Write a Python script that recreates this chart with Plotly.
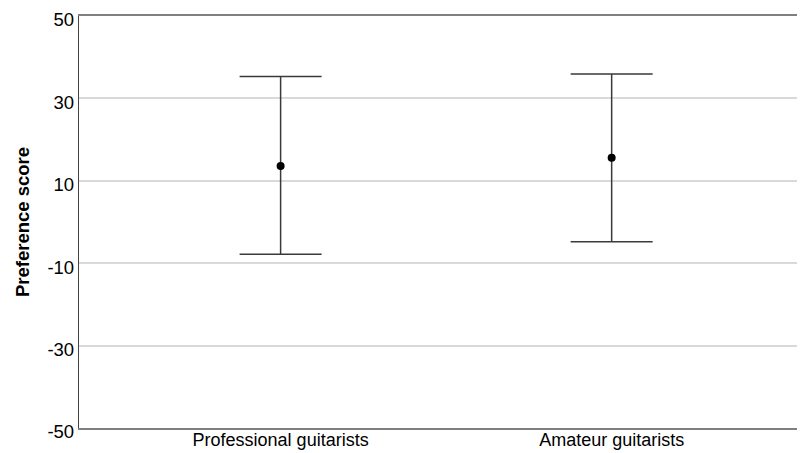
import plotly.graph_objects as go

categories = ["Professional guitarists", "Amateur guitarists"]
means = [13.6, 15.6]
upper = [35.3, 35.9]
lower = [-7.8, -4.8]
y_ticks = [-50, -30, -10, 10, 30, 50]
y_tick_labels = ["-50", "-30", "-10", "10", "30", "50"]

err_plus = [u - m for u, m in zip(upper, means)]
err_minus = [m - l for m, l in zip(means, lower)]

fig = go.Figure()
fig.add_trace(go.Scatter(
    x=categories, y=means, mode="markers",
    marker=dict(color="black", size=8),
    error_y=dict(type="data", symmetric=False, array=err_plus, arrayminus=err_minus,
                 color="#3a3a3a", thickness=1.5, width=41),
    showlegend=False,
))

font = "Liberation Sans, Arial, sans-serif"
# page body has an 8px default margin, so the figure is offset by 8px
fig.update_layout(
    width=797, height=445,
    margin=dict(l=71, r=0, t=8, b=25),
    paper_bgcolor="white", plot_bgcolor="white",
    font=dict(family=font, color="black"),
)
fig.update_xaxes(
    type="category", range=[-0.609, 1.584], showgrid=False,
    showline=True, linecolor="#7f7f7f", linewidth=2, mirror=True,
    ticks="", tickfont=dict(size=18), ticklabelstandoff=-6, automargin=False,
)
fig.update_yaxes(
    range=[-50, 50], tickvals=y_ticks, ticktext=y_tick_labels,
    showgrid=True, gridcolor="#d9d9d9", gridwidth=1.5,
    zeroline=False, showline=True, linecolor="#444444", linewidth=1.3,
    ticks="", tickfont=dict(size=18.5), ticklabelshift=4,
    title=dict(text="<b>Preference score</b>", font=dict(size=18.5), standoff=12),
    automargin=False,
)
fig.write_html("out.html")
